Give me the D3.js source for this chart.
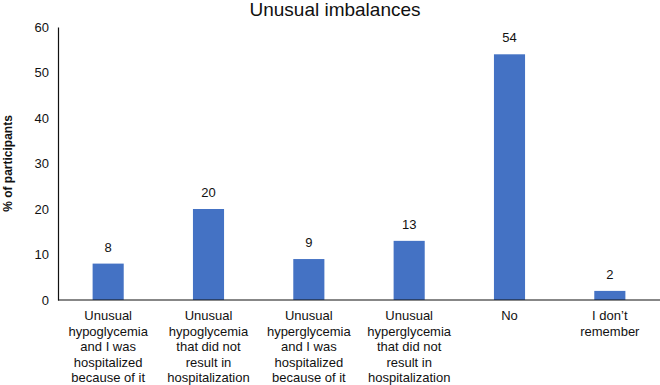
<!DOCTYPE html>
<html><head><meta charset="utf-8">
<script src="https://cdn.jsdelivr.net/npm/d3@7"></script>
<style>
html,body{margin:0;padding:0;background:#fff;}
text{font-family:"Liberation Sans",Arial,Helvetica,sans-serif;fill:#111;}
</style></head>
<body><svg id="c" width="660" height="385"></svg>
<script>
const categories = [
  ["Unusual","hypoglycemia","and I was","hospitalized","because of it"],
  ["Unusual","hypoglycemia","that did not","result in","hospitalization"],
  ["Unusual","hyperglycemia","and I was","hospitalized","because of it"],
  ["Unusual","hyperglycemia","that did not","result in","hospitalization"],
  ["No"],
  ["I don\u2019t","remember"]
];
const values = [8, 20, 9, 13, 54, 2];
const yTicks = [0, 10, 20, 30, 40, 50, 60];
const title = "Unusual imbalances";
const yTitle = "% of participants";

(function () {
const svg = d3.select("#c");
const mLeft = 58, mRight = 660, mTop = 27, mBottom = 300;
const keys = categories.map((c, i) => i);
const x = d3.scaleBand().domain(keys).range([mLeft, mRight]).paddingInner(0.69).paddingOuter(0.345);
const y = d3.scaleLinear().domain([0, 60]).range([mBottom, mTop]);

svg.append("text").attr("x", 335).attr("y", 15.5).attr("text-anchor", "middle")
  .style("font-size", "19px").text(title);

svg.append("text").attr("transform", `translate(12,${(mTop + mBottom) / 2}) rotate(-90)`)
  .attr("text-anchor", "middle").style("font-size", "12px").style("font-weight", "bold").text(yTitle);

const ya = svg.append("g").attr("transform", `translate(${mLeft},0)`)
  .call(d3.axisLeft(y).tickValues(yTicks).tickSize(0).tickPadding(9));
ya.select(".domain").attr("stroke", "#111").attr("stroke-width", 1.2);
ya.selectAll("text").style("font-size", "13px").attr("fill", "#111")
  .style("font-family", '"Liberation Sans",Arial,sans-serif');

svg.selectAll("rect.bar").data(values).join("rect").attr("class", "bar")
  .attr("x", (d, i) => x(i)).attr("width", x.bandwidth())
  .attr("y", d => y(d)).attr("height", d => y(0) - y(d))
  .attr("fill", "#4472C4");

svg.append("line").attr("x1", mLeft).attr("x2", mRight).attr("y1", y(0)).attr("y2", y(0))
  .attr("stroke", "#111").attr("stroke-width", 1.2);

svg.selectAll("text.val").data(values).join("text").attr("class", "val")
  .attr("x", (d, i) => x(i) + x.bandwidth() / 2).attr("y", d => y(d) - 12)
  .attr("text-anchor", "middle").style("font-size", "13px").text(d => d);

const xa = svg.append("g");
categories.forEach((lines, i) => {
  const t = xa.append("text").attr("text-anchor", "middle").style("font-size", "13px");
  lines.forEach((ln, j) => {
    t.append("tspan").attr("x", x(i) + x.bandwidth() / 2).attr("y", 320 + j * 15.6).text(ln);
  });
});
})();
</script></body></html>
